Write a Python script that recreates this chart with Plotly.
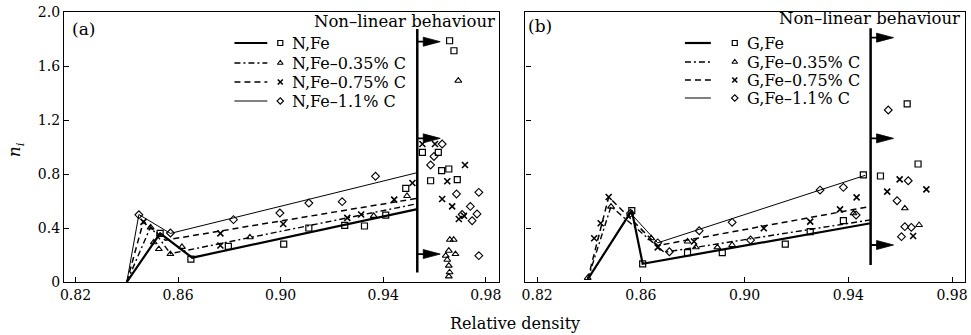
import plotly.graph_objects as go

# ---------------- data ----------------
# Panel (a) : N (normal) series, fitted lines
a_fe_lx = [0.840, 0.853, 0.8655, 0.9533]
a_fe_ly = [0.00, 0.36, 0.18, 0.54]
a_c35_lx = [0.840, 0.8493, 0.857, 0.9533]
a_c35_ly = [0.00, 0.41, 0.21, 0.58]
a_c75_lx = [0.840, 0.8465, 0.855, 0.9533]
a_c75_ly = [0.00, 0.45, 0.31, 0.62]
a_c11_lx = [0.840, 0.8447, 0.857, 0.9533]
a_c11_ly = [0.00, 0.50, 0.36, 0.81]

# Panel (a) : measured points
a_fe_x = [0.853, 0.865, 0.8796, 0.9012, 0.911, 0.925, 0.9327, 0.941, 0.9488, 0.9553, 0.9615,
          0.9628, 0.9656, 0.9585, 0.9689, 0.9659, 0.9676]
a_fe_y = [0.36, 0.17, 0.264, 0.28, 0.40, 0.42, 0.415, 0.495, 0.694, 0.96, 0.96,
          0.825, 0.837, 0.75, 0.758, 1.787, 1.713]
a_c35_x = [0.8493, 0.8505, 0.8525, 0.857, 0.8615, 0.888, 0.9363, 0.9493, 0.9660, 0.9675,
           0.9656, 0.9682, 0.9644, 0.9650, 0.9656, 0.9659, 0.9656, 0.9693]
a_c35_y = [0.405, 0.294, 0.244, 0.207, 0.26, 0.331, 0.49, 0.637, 0.313, 0.313,
           0.232, 0.207, 0.195, 0.165, 0.121, 0.072, 0.042, 1.491]
a_c75_x = [0.8465, 0.8765, 0.8765, 0.901, 0.926, 0.9314, 0.9443, 0.9514, 0.9553, 0.9602,
           0.9719, 0.965, 0.963, 0.9669, 0.9695, 0.9715]
a_c75_y = [0.445, 0.36, 0.27, 0.43, 0.475, 0.50, 0.61, 0.733, 1.022, 1.022,
           0.867, 0.746, 0.615, 0.56, 0.467, 0.491]
a_c11_x = [0.8447, 0.857, 0.8816, 0.8997, 0.911, 0.924, 0.937, 0.963, 0.9598, 0.9585,
           0.9686, 0.9773, 0.974, 0.9766, 0.9747, 0.9773, 0.9708]
a_c11_y = [0.498, 0.363, 0.462, 0.511, 0.585, 0.595, 0.783, 1.022, 0.93, 0.867,
           0.652, 0.664, 0.56, 0.504, 0.454, 0.195, 0.50]

# Panel (b) : G (green) series, fitted lines
b_fe_lx = [0.8395, 0.8565, 0.8607, 0.9486]
b_fe_ly = [0.02, 0.53, 0.135, 0.435]
b_c35_lx = [0.8395, 0.8485, 0.869, 0.9486]
b_c35_ly = [0.02, 0.56, 0.22, 0.46]
b_c75_lx = [0.8395, 0.8476, 0.8665, 0.9486]
b_c75_ly = [0.02, 0.63, 0.27, 0.56]
b_c11_lx = [0.8395, 0.856, 0.8665, 0.9465]
b_c11_ly = [0.02, 0.51, 0.29, 0.79]

# Panel (b) : measured points
b_fe_x = [0.8565, 0.8607, 0.878, 0.8914, 0.9157, 0.9253, 0.9381, 0.9458, 0.9627, 0.9669, 0.9524]
b_fe_y = [0.528, 0.135, 0.217, 0.217, 0.281, 0.373, 0.455, 0.793, 1.319, 0.874, 0.785]
b_c35_x = [0.8395, 0.8485, 0.864, 0.878, 0.8812, 0.8895, 0.8952, 0.942, 0.9618, 0.9673]
b_c35_y = [0.03, 0.558, 0.324, 0.30, 0.257, 0.257, 0.274, 0.509, 0.546, 0.422]
b_c75_x = [0.842, 0.8445, 0.8476, 0.8665, 0.8805, 0.9074, 0.9253, 0.9368, 0.9432, 0.9598,
           0.9701, 0.955, 0.965]
b_c75_y = [0.324, 0.435, 0.63, 0.257, 0.30, 0.398, 0.447, 0.538, 0.627, 0.76,
           0.686, 0.669, 0.341]
b_c11_x = [0.856, 0.8665, 0.871, 0.8825, 0.8952, 0.9023, 0.9291, 0.9381, 0.943, 0.9554,
           0.9631, 0.9588, 0.9618, 0.9643, 0.9605]
b_c11_y = [0.51, 0.29, 0.224, 0.38, 0.442, 0.311, 0.681, 0.701, 0.496, 1.274,
           0.75, 0.602, 0.41, 0.405, 0.336]

# Non-linear limit and arrow levels
a_limit_x = 0.9533
a_limit_y = [0.07, 1.875]
a_arrow_y = [1.78, 1.064, 0.207]
b_limit_x = 0.9486
b_limit_y = [0.126, 1.88]
b_arrow_y = [1.81, 1.064, 0.274]

a_names = ["N,Fe", "N,Fe\u20130.35% C", "N,Fe\u20130.75% C", "N,Fe\u20131.1% C"]
b_names = ["G,Fe", "G,Fe\u20130.35% C", "G,Fe\u20130.75% C", "G,Fe\u20131.1% C"]

x_ticks = [0.82, 0.86, 0.90, 0.94, 0.98]
x_tick_text = ["0.82", "0.86", "0.90", "0.94", "0.98"]
y_ticks = [0, 0.4, 0.8, 1.2, 1.6, 2.0]
y_tick_text = ["0", "0.4", "0.8", "1.2", "1.6", "2.0"]

# ---------------- layout geometry ----------------
W, H = 971, 335
ML, MR, MT, MB = 64, 3, 12, 53
PW = W - ML - MR
PH = H - MT - MB
XR = [0.8155, 0.985]
YR = [0.0, 2.0]
A_DOM = [0.0, 436 / PW]
B_DOM = [463 / PW, 1.0]
FONT = "DejaVu Serif"


def paper_x(p):
    return (p - ML) / PW


def paper_y(p):
    return (H - MB - p) / PH


def data_x(p, dom):
    f = (p - ML) / PW
    return XR[0] + (f - dom[0]) / (dom[1] - dom[0]) * (XR[1] - XR[0])


def data_y(p):
    return YR[0] + paper_y(p) * (YR[1] - YR[0])


def xpx(dom):
    return (XR[1] - XR[0]) / ((dom[1] - dom[0]) * PW)


YPX = (YR[1] - YR[0]) / PH

styles = [
    dict(width=2.2, dash="solid"),
    dict(width=1.4, dash="6px,3px,2px,3px"),
    dict(width=1.5, dash="6px,4px"),
    dict(width=1.0, dash="solid"),
]
symbols = [
    dict(symbol="square-open", size=6, line=dict(width=1.2, color="black")),
    dict(symbol="triangle-up-open", size=6, line=dict(width=1.1, color="black")),
    dict(symbol="x-thin", size=6, line=dict(width=1.6, color="black")),
    dict(symbol="diamond-open", size=6, line=dict(width=1.1, color="black")),
]

fig = go.Figure()

panels = [
    ("x", "y", A_DOM,
     [(a_fe_lx, a_fe_ly), (a_c35_lx, a_c35_ly), (a_c75_lx, a_c75_ly), (a_c11_lx, a_c11_ly)],
     [(a_fe_x, a_fe_y), (a_c35_x, a_c35_y), (a_c75_x, a_c75_y), (a_c11_x, a_c11_y)],
     a_names),
    ("x2", "y2", B_DOM,
     [(b_fe_lx, b_fe_ly), (b_c35_lx, b_c35_ly), (b_c75_lx, b_c75_ly), (b_c11_lx, b_c11_ly)],
     [(b_fe_x, b_fe_y), (b_c35_x, b_c35_y), (b_c75_x, b_c75_y), (b_c11_x, b_c11_y)],
     b_names),
]

for xa, ya, dom, lines, pts, names in panels:
    for i, ((lx, ly), (mx, my)) in enumerate(zip(lines, pts)):
        fig.add_trace(go.Scatter(x=lx, y=ly, mode="lines", xaxis=xa, yaxis=ya,
                                 line=dict(color="black", **styles[i]),
                                 showlegend=False, hoverinfo="skip"))
        fig.add_trace(go.Scatter(x=mx, y=my, mode="markers", xaxis=xa, yaxis=ya,
                                 marker=dict(color="black", **symbols[i]),
                                 showlegend=False, name=names[i], cliponaxis=False))

shapes = []
annotations = []

# non-linear limits and arrows
for xa, ya, dom, lim_x, lim_y, arr in [("x", "y", A_DOM, a_limit_x, a_limit_y, a_arrow_y),
                                       ("x2", "y2", B_DOM, b_limit_x, b_limit_y, b_arrow_y)]:
    dx = xpx(dom)
    shapes.append(dict(type="line", xref=xa, yref=ya, x0=lim_x, x1=lim_x,
                       y0=lim_y[0], y1=lim_y[1], line=dict(color="black", width=2.5)))
    for yy in arr:
        tip = lim_x + 23 * dx
        base = tip - 17 * dx
        h = 4.5 * YPX
        shapes.append(dict(type="line", xref=xa, yref=ya, x0=lim_x, x1=base + 2 * dx,
                           y0=yy, y1=yy, line=dict(color="black", width=1.8)))
        shapes.append(dict(type="path", xref=xa, yref=ya,
                           path=f"M{base},{yy + h} L{tip},{yy} L{base},{yy - h} Z",
                           fillcolor="black", line=dict(color="black", width=0.8)))

# legends (hand drawn keys)
leg_specs = [
    (A_DOM, "x", "y", [43, 63, 82, 101], 235, 268, 281, 291, a_names),
    (B_DOM, "x2", "y2", [43, 62, 80, 98], 687, 713, 737, 747, b_names),
]
for dom, xa, ya, rows, l0, l1, mpx, tpx, names in leg_specs:
    for i, ry in enumerate(rows):
        shapes.append(dict(type="line", xref="paper", yref="paper",
                           x0=paper_x(l0), x1=paper_x(l1), y0=paper_y(ry), y1=paper_y(ry),
                           line=dict(color="black", width=styles[i]["width"], dash=styles[i]["dash"])))
        fig.add_trace(go.Scatter(x=[data_x(mpx, dom)], y=[data_y(ry)], mode="markers",
                                 xaxis=xa, yaxis=ya, showlegend=False, hoverinfo="skip",
                                 marker=dict(color="black", **{**symbols[i], "size": 5}),
                                 cliponaxis=False))
        annotations.append(dict(xref="paper", yref="paper", x=paper_x(tpx), y=paper_y(ry),
                                xanchor="left", yanchor="middle", text=names[i], showarrow=False,
                                font=dict(family=FONT, size=16, color="black")))

# texts
annotations += [
    dict(xref="paper", yref="paper", x=paper_x(498), y=paper_y(21), xanchor="right",
         yanchor="middle", text="Non\u2013linear behaviour", showarrow=False,
         font=dict(family=FONT, size=16.5, color="black")),
    dict(xref="paper", yref="paper", x=paper_x(965), y=paper_y(18), xanchor="right",
         yanchor="middle", text="Non\u2013linear behaviour", showarrow=False,
         font=dict(family=FONT, size=16.5, color="black")),
    dict(xref="paper", yref="paper", x=paper_x(84), y=paper_y(29), xanchor="center",
         yanchor="middle", text="(a)", showarrow=False,
         font=dict(family=FONT, size=17, color="black")),
    dict(xref="paper", yref="paper", x=paper_x(542), y=paper_y(26), xanchor="center",
         yanchor="middle", text="(b)", showarrow=False,
         font=dict(family=FONT, size=17, color="black")),
    dict(xref="paper", yref="paper", x=paper_x(516), y=paper_y(323), xanchor="center",
         yanchor="middle", text="Relative density", showarrow=False,
         font=dict(family=FONT, size=16, color="black")),
    dict(xref="paper", yref="paper", x=paper_x(15), y=paper_y(150), xanchor="center",
         yanchor="middle", text="<i>n</i><sub><i>i</i></sub>", textangle=-90, showarrow=False,
         font=dict(family=FONT, size=17, color="black")),
]

axis_common = dict(showline=True, linecolor="black", linewidth=1.3, mirror=True,
                   ticks="inside", ticklen=5, tickwidth=1.2, tickcolor="black",
                   showgrid=False, zeroline=False,
                   tickfont=dict(family=FONT, size=14, color="black"))

fig.update_layout(
    width=W, height=H,
    margin=dict(l=ML, r=MR, t=MT, b=MB, pad=0),
    paper_bgcolor="white", plot_bgcolor="white",
    showlegend=False,
    xaxis=dict(domain=A_DOM, range=XR, tickvals=x_ticks, ticktext=x_tick_text,
               anchor="y", **axis_common),
    yaxis=dict(domain=[0, 1], range=YR, tickvals=y_ticks, ticktext=y_tick_text,
               anchor="x", **axis_common),
    xaxis2=dict(domain=B_DOM, range=XR, tickvals=x_ticks, ticktext=x_tick_text,
                anchor="y2", **axis_common),
    yaxis2=dict(domain=[0, 1], range=YR, tickvals=y_ticks, showticklabels=False,
                anchor="x2", **axis_common),
    shapes=shapes,
    annotations=annotations,
)

fig.write_html("out.html")
